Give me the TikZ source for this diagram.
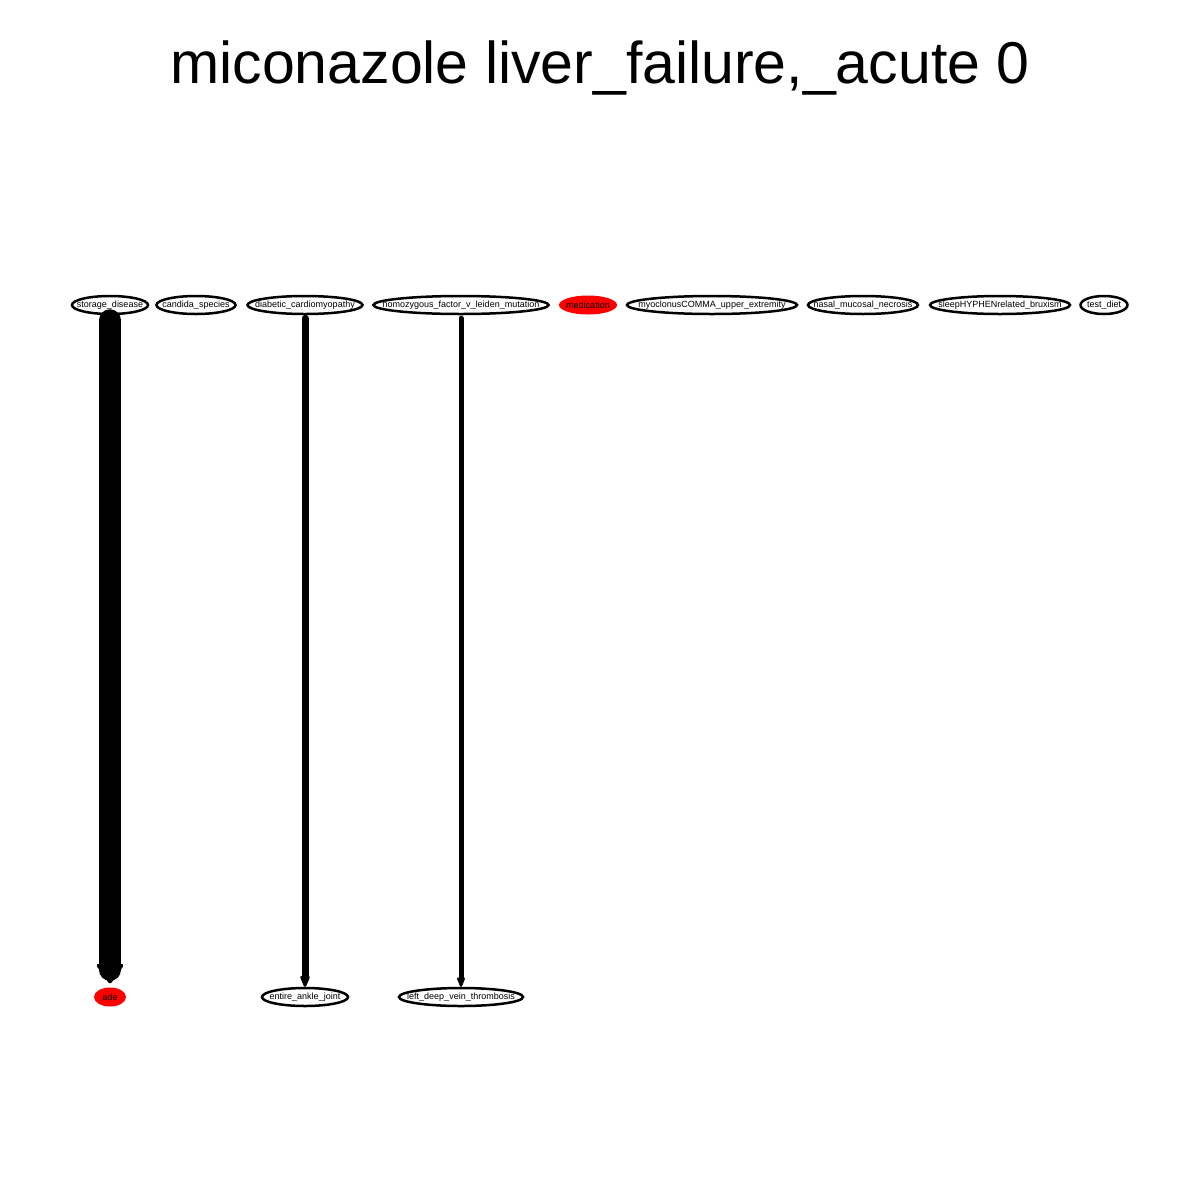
\documentclass[tikz,border=0pt]{standalone}
\usepackage{fontspec}
\setmainfont{Liberation Sans}
\usetikzlibrary{shapes.geometric,arrows.meta}
\newcommand{\zlab}[1]{\makebox[0pt]{\raisebox{-1.5pt}{#1}}}
\tikzset{
  gnode/.style={ellipse,draw=black,line width=2.5pt,inner sep=0pt,minimum height=18pt,font=\fontsize{9}{10}\selectfont},
  rnode/.style={ellipse,fill=red,draw=none,inner sep=0pt,minimum height=19pt,font=\fontsize{9}{10}\selectfont},
  edge/.style={draw=black,line cap=round}
}
\begin{document}
\begin{tikzpicture}[x=1pt,y=-1pt]
\useasboundingbox[fill=white] (0,0) rectangle (1200,1200);
\node[font=\fontsize{59}{64}\selectfont] (title) at (600,68) {miconazole liver\_failure,\_acute 0};
\node[gnode,minimum width=76pt] (sd) at (110,305) {\zlab{storage\_disease}};
\node[gnode,minimum width=79pt] (cs) at (196,305) {\zlab{candida\_species}};
\node[gnode,minimum width=115pt] (dc) at (305,305) {\zlab{diabetic\_cardiomyopathy}};
\node[gnode,minimum width=175pt] (hf) at (461,305) {\zlab{homozygous\_factor\_v\_leiden\_mutation}};
\node[rnode,minimum width=58pt] (med) at (588,305) {\zlab{medication}};
\node[gnode,minimum width=170pt] (my) at (712,305) {\zlab{myoclonusCOMMA\_upper\_extremity}};
\node[gnode,minimum width=110pt] (nm) at (863,305) {\zlab{nasal\_mucosal\_necrosis}};
\node[gnode,minimum width=140pt] (sb) at (1000,305) {\zlab{sleepHYPHENrelated\_bruxism}};
\node[gnode,minimum width=47pt] (td) at (1104,305) {\zlab{test\_diet}};
\node[rnode,minimum width=32pt] (ade) at (110,997) {\zlab{ade}};
\node[gnode,minimum width=86pt] (ea) at (305,997) {\zlab{entire\_ankle\_joint}};
\node[gnode,minimum width=124pt] (ld) at (461,997) {\zlab{left\_deep\_vein\_thrombosis}};
\draw[edge,line width=22pt,-{Stealth[length=24pt,width=34pt,round]}] ([yshift=-5pt]sd.south) -- ([yshift=4pt]ade.north);
\draw[edge,line width=7pt,-{Stealth[length=16pt,width=13pt,round]}] ([yshift=-3pt]dc.south) -- (ea.north);
\draw[edge,line width=5pt,-{Stealth[length=14pt,width=11pt,round]}] ([yshift=-3pt]hf.south) -- (ld.north);
\end{tikzpicture}
\end{document}
